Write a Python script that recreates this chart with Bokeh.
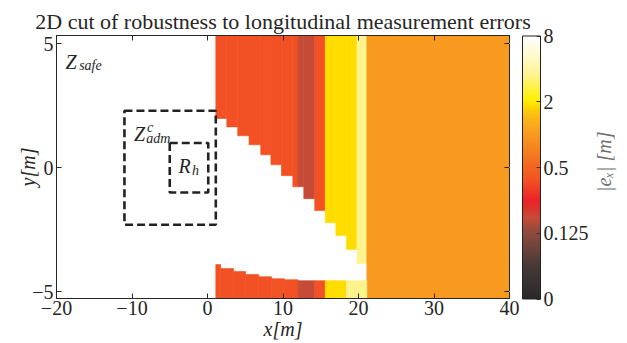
import numpy as np
from bokeh.plotting import figure
from bokeh.layouts import row
from bokeh.models import (ColumnDataSource, LinearColorMapper, ColorBar, FixedTicker,
                          LinearAxis, Range1d)
from bokeh.core.properties import value
from bokeh.embed import file_html
from bokeh.resources import INLINE

# ---------------- data ----------------
TITLE = "2D cut of robustness to longitudinal measurement errors"
X_LABEL = "x[m]"
Y_LABEL = "y[m]"
CB_LABEL = "|eₓ| [m]"

x_ticks = [-20, -10, 0, 10, 20, 30, 40]
y_ticks = [-5, 0, 5]
cb_tick_values = [0, 0.125, 0.5, 2, 8]
cb_tick_labels = ["0", "0.125", "0.5", "2", "8"]

x_limits = (-20, 40)
y_limits = (-5.28, 5.34)
y_domain = (-5.6, 5.6)          # y extent of the computed grid

# upper coloured region: column edges, lower boundary of the column, |e_x| [m]
upper_x_edges = [1.1, 2.55, 4.0, 5.5, 7.05, 8.4, 9.8, 11.3, 12.0, 12.75, 14.2,
                 15.6, 17.0, 18.4, 19.8, 21.1, 40.0]
upper_bottom = [1.99, 1.65, 1.29, 0.93, 0.52, 0.12, -0.32, -0.77,
                -0.77, -1.25, -1.73, -2.22, -2.74, -3.30, -3.87, -5.6]
upper_err = [0.38, 0.38, 0.38, 0.38, 0.38, 0.38, 0.38, 0.38,
             0.175, 0.175, 0.38, 1.85, 1.85, 1.85, 3.5, 1.0]

# lower coloured region: column edges, upper boundary of the column, |e_x| [m]
lower_x_edges = [1.1, 1.75, 3.45, 5.05, 6.8, 8.5, 10.2, 12.0, 14.2, 15.6, 18.4, 21.1]
lower_top = [-3.91, -4.07, -4.19, -4.31, -4.40, -4.48, -4.52, -4.56, -4.56, -4.56, -4.56]
lower_err = [0.38, 0.38, 0.38, 0.38, 0.38, 0.39, 0.38, 0.175, 0.38, 1.85, 3.5]

# dashed sets [x0, x1, y0, y1]
box_adm = [-11.0, 1.1, -2.3, 2.3]
box_rh = [-5.0, 0.1, -1.0, 1.0]

# set names
name_main = ["Z", "Z", "R"]
name_main_x = [-18.8, -9.75, -3.85]
name_main_y = [4.28, 1.38, 0.08]
name_sub = ["safe", "adm", "h"]
name_sub_x = [-17.0, -8.1, -2.05]
name_sub_y = [4.13, 1.20, -0.10]
name_sup = ["c"]
name_sup_x = [-8.0]
name_sup_y = [1.64]

# colour scale (position on the colour bar 0..1 -> colour)
cb_pos = [0.0, 0.25, 0.5, 0.75, 1.0]


def to_pos(v):
    v = np.asarray(v, dtype=float)
    logpart = 0.5 + np.log(np.maximum(v, 1e-9) / 0.5) / np.log(4.0) / 4.0
    return np.where(v < 0.125, v / 0.125 * 0.25, logpart)


stops = [
    (0.0, "#2b2829"), (0.12, "#433936"), (0.25, "#8e4a3d"),
    (float(to_pos(0.175)), "#c54b36"), (0.372, "#ec2227"),
    (float(to_pos(0.38)), "#f15124"), (0.5, "#f26522"),
    (float(to_pos(1.0)), "#f7991f"), (0.70, "#fbbd14"),
    (float(to_pos(1.85)), "#ffdd00"), (0.76, "#fff000"),
    (float(to_pos(3.5)), "#fff38f"), (0.93, "#fffbd0"), (1.0, "#ffffff"),
]


def hex2rgb(h):
    return [int(h[i:i + 2], 16) for i in (1, 3, 5)]


stop_t = np.array([s[0] for s in stops])
stop_rgb = np.array([hex2rgb(s[1]) for s in stops], dtype=float)
tt = (np.arange(256) + 0.5) / 256
palette = ["#%02x%02x%02x" % tuple(int(round(np.interp(t, stop_t, stop_rgb[:, k]))) for k in range(3))
           for t in tt]
mapper = LinearColorMapper(palette=palette, low=0.0, high=1.0)

# ---------------- figure ----------------
FONT = "Liberation Serif"
TXT = "#262626"
MAIN_W, LAB_W, H = 592, 35, 343

p = figure(width=MAIN_W, height=H, x_range=Range1d(*x_limits), y_range=Range1d(*y_limits),
           output_backend="svg", toolbar_location=None,
           min_border_left=56, min_border_right=83, min_border_top=35, min_border_bottom=45,
           title=TITLE)
p.title.text_font = FONT
p.title.text_font_size = "22px"
p.title.text_font_style = "normal"
p.title.text_color = TXT
p.title.align = "center"
p.title.standoff = 3
p.grid.visible = False
p.outline_line_color = TXT
p.outline_line_width = 1
p.background_fill_color = "white"
p.border_fill_color = "white"

n_up = len(upper_err)
up_src = ColumnDataSource(dict(left=upper_x_edges[:-1], right=upper_x_edges[1:],
                               bottom=upper_bottom, top=[y_domain[1]] * n_up,
                               pos=to_pos(upper_err)))
n_lo = len(lower_err)
lo_src = ColumnDataSource(dict(left=lower_x_edges[:-1], right=lower_x_edges[1:],
                               bottom=[y_domain[0]] * n_lo, top=lower_top,
                               pos=to_pos(lower_err)))
for src in (up_src, lo_src):
    p.quad(left="left", right="right", bottom="bottom", top="top", source=src,
           fill_color={"field": "pos", "transform": mapper},
           line_color={"field": "pos", "transform": mapper}, line_width=0.6)

for b in (box_adm, box_rh):
    p.quad(left=[b[0]], right=[b[1]], bottom=[b[2]], top=[b[3]], fill_color=None,
           line_color="#222222", line_width=2.6, line_dash="8 4")

p.text(x=name_main_x, y=name_main_y, text=name_main, text_font=value(FONT),
       text_font_style="italic", text_font_size="20px", text_color=TXT,
       text_align="left", text_baseline="alphabetic")
p.text(x=name_sub_x, y=name_sub_y, text=name_sub, text_font=value(FONT),
       text_font_style="italic", text_font_size="14px", text_color=TXT,
       text_align="left", text_baseline="alphabetic")
p.text(x=name_sup_x, y=name_sup_y, text=name_sup, text_font=value(FONT),
       text_font_style="italic", text_font_size="14px", text_color=TXT,
       text_align="left", text_baseline="alphabetic")


def style_axis(ax, ticks, labels=True):
    ax.ticker = FixedTicker(ticks=ticks)
    ax.major_tick_in = 5
    ax.major_tick_out = 0
    ax.minor_tick_line_color = None
    ax.major_tick_line_color = TXT
    ax.axis_line_color = TXT
    ax.major_label_text_font = FONT
    ax.major_label_text_font_size = "20px"
    ax.major_label_text_color = TXT
    ax.axis_label_text_font = FONT
    ax.axis_label_text_font_style = "italic"
    ax.axis_label_text_font_size = "20px"
    ax.axis_label_text_color = TXT
    if not labels:
        ax.major_label_overrides = {t: "" for t in ticks}
        ax.major_label_standoff = 0


style_axis(p.xaxis[0], x_ticks)
p.xaxis[0].major_label_standoff = 2
p.xaxis[0].axis_label = X_LABEL
p.xaxis[0].axis_label_standoff = 0
style_axis(p.yaxis[0], y_ticks)
p.yaxis[0].major_label_standoff = 3
p.yaxis[0].axis_label = Y_LABEL
p.yaxis[0].axis_label_standoff = -10

top_ax = LinearAxis()
style_axis(top_ax, x_ticks, labels=False)
p.add_layout(top_ax, "above")
right_ax = LinearAxis()
style_axis(right_ax, y_ticks, labels=False)
p.add_layout(right_ax, "right")

# white (invisible) outward ticks: keep a gap between the frame and the colour bar
gap_ax = LinearAxis()
style_axis(gap_ax, y_ticks, labels=False)
gap_ax.major_tick_in = 0
gap_ax.major_tick_out = 13
gap_ax.major_tick_line_color = "white"
gap_ax.axis_line_color = None
p.add_layout(gap_ax, "right")

cb = ColorBar(color_mapper=mapper, ticker=FixedTicker(ticks=cb_pos),
              major_label_overrides={t: l for t, l in zip(cb_pos, cb_tick_labels)},
              width=18, height=263, padding=0, margin=0, label_standoff=3,
              location="center_left",
              major_label_text_font=FONT, major_label_text_font_size="20px",
              major_label_text_color=TXT, major_tick_in=4, major_tick_out=0,
              major_tick_line_color="#333333", minor_tick_line_color=None,
              bar_line_color="#222222", bar_line_width=1, border_line_color=None,
              background_fill_color=None)
p.add_layout(cb, "right")

# narrow strip carrying the colour-bar title, written bottom-to-top
q = figure(width=LAB_W, height=H, x_range=Range1d(0, 1), y_range=Range1d(0, 1),
           output_backend="svg", toolbar_location=None, min_border=0, title=None,
           x_axis_location=None, y_axis_location=None)
q.grid.visible = False
q.outline_line_color = None
q.border_fill_color = "white"
q.background_fill_color = "white"
q.text(x=[0.34], y=[0.52], text=[CB_LABEL], angle=np.pi / 2, text_font=value(FONT),
       text_font_style="italic", text_font_size="20px", text_color="#6e6e6e",
       text_align="center", text_baseline="middle")

layout = row(p, q)
open("out.html", "w").write(file_html(layout, INLINE))
